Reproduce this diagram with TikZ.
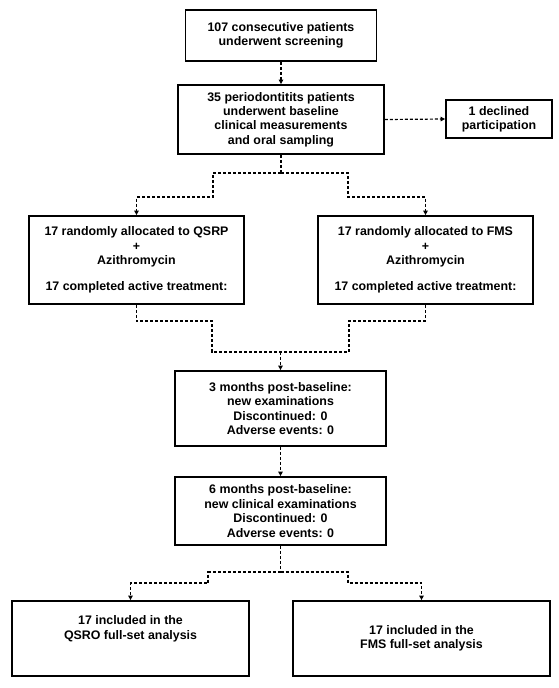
\documentclass[tikz,border=0pt]{standalone}
\usepackage{fontspec}
\setmainfont{Liberation Sans}
\usetikzlibrary{arrows.meta}
\begin{document}
\begin{tikzpicture}[x=1pt,y=-1pt,
  box/.style={draw=black,line width=1.8pt,align=center,inner sep=0pt,
    font=\fontsize{12.4}{14.4}\selectfont\bfseries},
  conn/.style={line width=1.2pt,dash pattern=on 3pt off 2pt},
  arr/.style={conn,-{Triangle[length=4.5pt,width=4.5pt]}}]
\useasboundingbox (0,0) rectangle (558,688);
\fill[white] (0,0) rectangle (558,688);
% boxes
\node[box,minimum width=191pt,minimum height=51pt] (b1) at (281,35.5)
  {107 consecutive patients\\underwent screening};
\node[box,minimum width=206pt,minimum height=69pt] (b2) at (281,119.5)
  {35 periodontitits patients\\underwent baseline\\clinical measurements\\and oral sampling};
\node[box,minimum width=106pt,minimum height=38pt] (dec) at (499,119)
  {1 declined\\participation};
\node[box,minimum width=215pt,minimum height=88pt] (qs) at (136.5,260)
  {17 randomly allocated to QSRP\\+\\Azithromycin\\[12pt]17 completed active treatment:};
\node[box,minimum width=215pt,minimum height=88pt] (fm) at (425.5,260)
  {17 randomly allocated to FMS\\+\\Azithromycin\\[12pt]17 completed active treatment:};
\node[box,minimum width=211pt,minimum height=75pt] (b3) at (280.5,408.5)
  {3 months post-baseline:\\new examinations\\Discontinued: 0\\Adverse events: 0};
\node[box,minimum width=211pt,minimum height=68pt] (b4) at (280.5,511)
  {6 months post-baseline:\\new clinical examinations\\Discontinued: 0\\Adverse events: 0};
\node[box,minimum width=237pt,minimum height=75pt] (f1) at (130.5,638.5)
  {17 included in the\\QSRO full-set analysis\\[8pt]\mbox{}};
\node[box,minimum width=257pt,minimum height=75pt] (f2) at (421.5,638.5)
  {17 included in the\\FMS full-set analysis};
% coordinates
\coordinate (s0) at (281,173);
\coordinate (sl1) at (213,173);
\coordinate (sl2) at (213,197);
\coordinate (sl3) at (136.5,197);
\coordinate (sr1) at (348,173);
\coordinate (sr2) at (348,197);
\coordinate (sr3) at (425.5,197);
\coordinate (ml1) at (136.5,321);
\coordinate (ml2) at (212,321);
\coordinate (ml3) at (212,352);
\coordinate (mr1) at (425.5,321);
\coordinate (mr2) at (349,321);
\coordinate (mr3) at (349,352);
\coordinate (m0) at (280.5,352);
\coordinate (t0) at (280.5,572);
\coordinate (tl1) at (208,572);
\coordinate (tl2) at (208,583);
\coordinate (tl3) at (130.5,583);
\coordinate (tr1) at (348,572);
\coordinate (tr2) at (348,583);
\coordinate (tr3) at (421.5,583);
% connectors
\draw[arr] (b1.south) -- (b2.north);
\draw[arr] (b2.east) -- (dec.west);
\draw[conn] (b2.south) -- (s0);
\draw[arr] (s0) -- (sl1) -- (sl2) -- (sl3) -- (qs.north);
\draw[arr] (s0) -- (sr1) -- (sr2) -- (sr3) -- (fm.north);
\draw[conn] (qs.south) -- (ml1) -- (ml2) -- (ml3) -- (mr3) -- (mr2) -- (mr1) -- (fm.south);
\draw[arr] (m0) -- (b3.north);
\draw[arr] (b3.south) -- (b4.north);
\draw[conn] (b4.south) -- (t0);
\draw[arr] (t0) -- (tl1) -- (tl2) -- (tl3) -- (f1.north);
\draw[arr] (t0) -- (tr1) -- (tr2) -- (tr3) -- (f2.north);
\end{tikzpicture}
\end{document}
